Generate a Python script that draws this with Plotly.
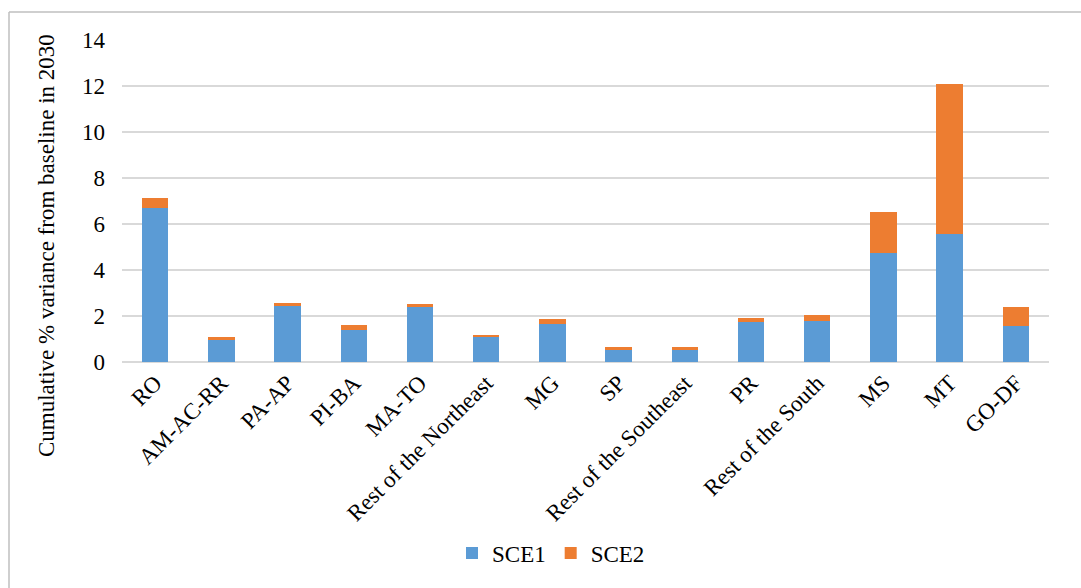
import plotly.graph_objects as go

categories = ["RO", "AM-AC-RR", "PA-AP", "PI-BA", "MA-TO", "Rest of the Northeast",
              "MG", "SP", "Rest of the Southeast", "PR", "Rest of the South",
              "MS", "MT", "GO-DF"]
sce1 = [6.70, 0.95, 2.42, 1.40, 2.39, 1.10, 1.65, 0.52, 0.52, 1.72, 1.77, 4.74, 5.57, 1.55]
sce2 = [0.43, 0.12, 0.13, 0.20, 0.15, 0.09, 0.23, 0.12, 0.12, 0.20, 0.29, 1.80, 6.50, 0.84]
y_ticks = [0, 2, 4, 6, 8, 10, 12, 14]
y_title = "Cumulative % variance from baseline in 2030"

FONT = "Liberation Serif, Times New Roman, DejaVu Serif, serif"

fig = go.Figure()
fig.add_trace(go.Bar(x=categories, y=sce1, name="SCE1", marker=dict(color="#5B9BD5", line=dict(width=0))))
fig.add_trace(go.Bar(x=categories, y=sce2, name="SCE2", marker=dict(color="#ED7D31", line=dict(width=0))))

L, R, T, B = 122, 32, 40, 226
W, H = 1081, 588
pw, ph = W - L - R, H - T - B

def px_x(p):
    return (p - L) / pw

def px_y(p):
    return (H - B - p) / ph

fig.update_layout(
    width=W, height=H,
    barmode="stack",
    bargap=0.6,
    margin=dict(l=L, r=R, t=T, b=B, autoexpand=False),
    paper_bgcolor="white",
    plot_bgcolor="white",
    font=dict(family=FONT, color="#000000", size=23),
    xaxis=dict(
        tickangle=-45,
        tickfont=dict(family=FONT, size=23, color="#000000"),
        showgrid=False,
        showline=False,
        ticks="",
        ticklabelstandoff=2,
    ),
    yaxis=dict(
        range=[0, 14],
        tickvals=y_ticks,
        tickfont=dict(family=FONT, size=23, color="#000000"),
        showgrid=True,
        gridcolor="#d9d9d9",
        gridwidth=1.5,
        zeroline=True,
        zerolinecolor="#d9d9d9",
        zerolinewidth=1.5,
        ticks="",
        ticklabelstandoff=16,
    ),
    annotations=[
        dict(text=y_title, xref="paper", yref="paper",
             x=px_x(46), y=px_y(246), xanchor="center", yanchor="middle",
             textangle=-90, showarrow=False,
             font=dict(family=FONT, size=23, color="#000000")),
    ],
    showlegend=True,
    legend=dict(
        orientation="h",
        x=px_x(551), xanchor="center",
        y=px_y(553), yanchor="middle",
        font=dict(family=FONT, size=23, color="#000000"),
        traceorder="normal",
    ),
    shapes=[
        dict(type="line", xref="paper", yref="paper",
             x0=px_x(9), x1=px_x(1100), y0=px_y(12), y1=px_y(12),
             line=dict(color="#bfbfbf", width=1.5)),
        dict(type="line", xref="paper", yref="paper",
             x0=px_x(9), x1=px_x(9), y0=px_y(12), y1=px_y(600),
             line=dict(color="#bfbfbf", width=1.5)),
    ],
)

fig.write_html("out.html")
